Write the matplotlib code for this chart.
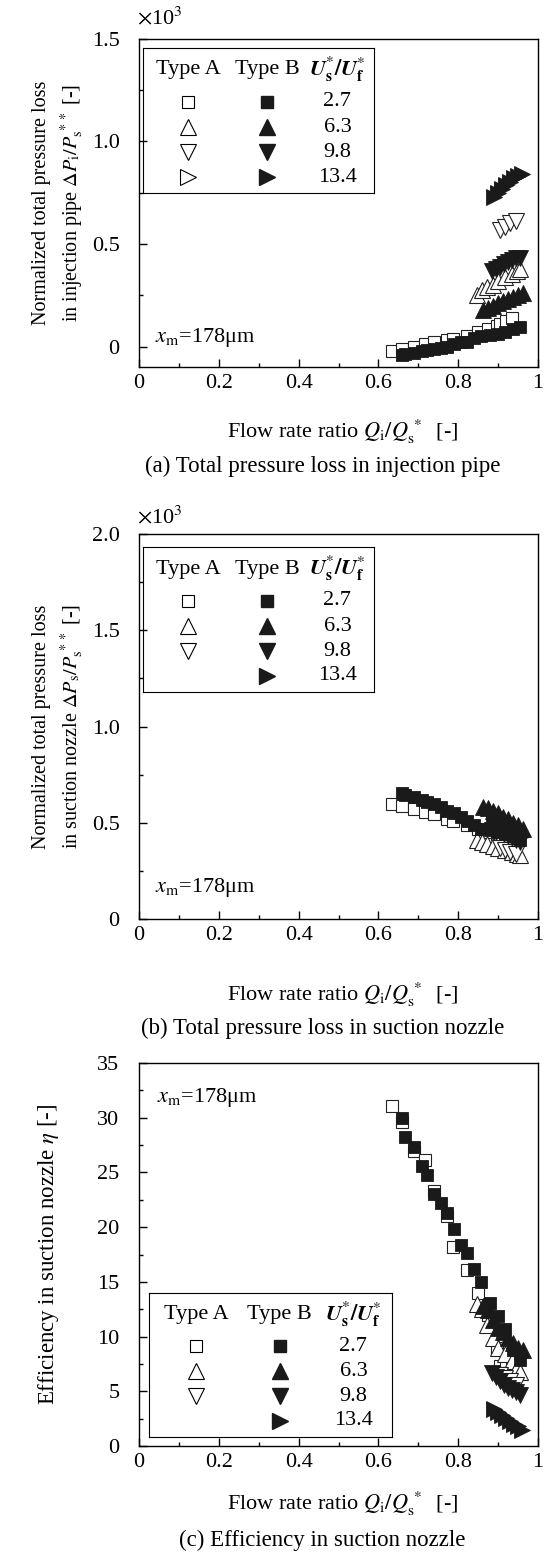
"""Pressure loss and efficiency of Type A / Type B nozzles versus flow rate ratio."""

import matplotlib

matplotlib.use("Agg")
import matplotlib.pyplot as plt  # noqa: E402
from matplotlib.ticker import FixedLocator, FixedFormatter, MultipleLocator  # noqa: E402


plt.rcParams["font.family"] = ["Liberation Serif", "DejaVu Serif"]
plt.rcParams["mathtext.fontset"] = "stix"
plt.rcParams["font.size"] = 16

SPEED_RATIOS = ["2.7", "6.3", "9.8", "13.4"]
MARKERS = ["s", "^", "v", ">"]

# flow rate ratio Qi/Qs* of each series
X_A_27 = [0.635, 0.66, 0.688, 0.717, 0.74, 0.773, 0.787, 0.823, 0.85, 0.875, 0.896, 0.905, 0.92, 0.936]
X_B_27 = [0.66, 0.667, 0.69, 0.71, 0.723, 0.74, 0.757, 0.773, 0.79, 0.807, 0.821, 0.84,
          0.857, 0.88, 0.9, 0.917, 0.938, 0.955]
X_A_63 = [0.846, 0.859, 0.871, 0.888, 0.9, 0.917, 0.934, 0.947, 0.955]
X_B_63 = [0.862, 0.875, 0.888, 0.9, 0.913, 0.925, 0.938, 0.95, 0.962]
X_A_98 = [0.905, 0.918, 0.93, 0.945]
X_B_98 = [0.885, 0.895, 0.905, 0.915, 0.925, 0.935, 0.945, 0.955]
X_B_134 = [0.89, 0.9, 0.91, 0.92, 0.93, 0.94, 0.95, 0.96]

# (a) injection pipe loss, x10^3
LOSS_PIPE_A_27 = [-0.02, -0.01, 0.0, 0.01, 0.02, 0.03, 0.035, 0.05, 0.07, 0.085, 0.10, 0.11, 0.125, 0.14]
LOSS_PIPE_B_27 = [-0.04, -0.035, -0.03, -0.02, -0.015, -0.01, -0.005, 0.0, 0.01, 0.02, 0.02, 0.04,
                  0.05, 0.055, 0.06, 0.07, 0.085, 0.095]
LOSS_PIPE_A_63 = [0.25, 0.275, 0.29, 0.30, 0.32, 0.34, 0.355, 0.37, 0.38]
LOSS_PIPE_B_63 = [0.18, 0.19, 0.20, 0.21, 0.22, 0.23, 0.24, 0.25, 0.26]
LOSS_PIPE_A_98 = [0.57, 0.585, 0.60, 0.61]
LOSS_PIPE_B_98 = [0.37, 0.38, 0.39, 0.40, 0.41, 0.42, 0.43, 0.43]
LOSS_PIPE_B_134 = [0.73, 0.75, 0.77, 0.79, 0.80, 0.82, 0.83, 0.84]

# (b) suction nozzle loss, x10^3
LOSS_NOZZLE_A_27 = [0.60, 0.585, 0.57, 0.557, 0.544, 0.52, 0.51, 0.49, 0.47, 0.45, 0.44, 0.43, 0.42, 0.40]
LOSS_NOZZLE_B_27 = [0.655, 0.645, 0.635, 0.62, 0.61, 0.595, 0.58, 0.56, 0.55, 0.53, 0.51, 0.49,
                    0.47, 0.46, 0.45, 0.44, 0.43, 0.41]
LOSS_NOZZLE_A_63 = [0.41, 0.40, 0.39, 0.38, 0.37, 0.36, 0.35, 0.34, 0.33]
LOSS_NOZZLE_B_63 = [0.58, 0.575, 0.56, 0.55, 0.53, 0.52, 0.50, 0.49, 0.47]
LOSS_NOZZLE_A_98 = [0.37, 0.36, 0.35, 0.34]
LOSS_NOZZLE_B_98 = [0.46, 0.45, 0.45, 0.44, 0.43, 0.42, 0.41, 0.40]
LOSS_NOZZLE_B_134 = [0.50, 0.49, 0.48, 0.47, 0.46, 0.45, 0.44, 0.43]

# (c) suction nozzle efficiency
EFF_A_27 = [31.1, 29.6, 27.0, 26.1, 23.3, 21.0, 18.2, 16.1, 14.0, 12.0, 9.0, 7.3, 7.8, 7.0]
EFF_B_27 = [30.0, 28.2, 27.3, 25.6, 24.8, 23.0, 22.2, 21.3, 19.8, 18.4, 17.6, 16.2,
            15.0, 13.1, 11.9, 10.7, 8.8, 7.9]
EFF_A_63 = [13.0, 12.5, 11.1, 9.9, 9.0, 8.4, 7.8, 7.2, 6.8]
EFF_B_63 = [12.8, 12.4, 11.5, 10.8, 10.4, 9.9, 9.4, 9.0, 8.8]
EFF_A_98 = [6.5, 6.2, 5.9, 5.6]
EFF_B_98 = [6.7, 6.3, 5.9, 5.6, 5.3, 5.1, 4.9, 4.7]
EFF_B_134 = [3.4, 3.1, 2.8, 2.6, 2.3, 2.0, 1.8, 1.5]

W, H = 547, 1564


def px_rect(left, top, right, bottom):
    return [left / W, 1 - bottom / H, (right - left) / W, (bottom - top) / H]


def scatter_series(ax, loss_a, loss_b):
    open_sets = zip([X_A_27, X_A_63, X_A_98], loss_a, MARKERS)
    for x, y, m in open_sets:
        size = 8.5 if m == "s" else 11
        ax.plot(x, y, m, ms=size, mfc="white", mec="#222222", mew=0.8, ls="none")
    filled_sets = zip([X_B_27, X_B_63, X_B_98, X_B_134], loss_b, MARKERS)
    for x, y, m in filled_sets:
        size = 8.5 if m == "s" else 11
        ax.plot(x, y, m, ms=size, mfc="#1a1a1a", mec="#1a1a1a", mew=0.6, ls="none")


def style_axes(ax, ylim, yticks, ylabels, minor):
    ax.set_xlim(0, 1)
    ax.set_ylim(*ylim)
    ax.xaxis.set_major_locator(FixedLocator([0, 0.2, 0.4, 0.6, 0.8, 1.0]))
    ax.xaxis.set_major_formatter(FixedFormatter(["0", "0.2", "0.4", "0.6", "0.8", "1"]))
    ax.xaxis.set_minor_locator(MultipleLocator(0.1))
    ax.yaxis.set_major_locator(FixedLocator(yticks))
    ax.yaxis.set_major_formatter(FixedFormatter(ylabels))
    ax.yaxis.set_minor_locator(MultipleLocator(minor))
    ax.tick_params(which="both", direction="in", top=False, right=False, width=1.0)
    ax.tick_params(which="major", length=6)
    ax.tick_params(which="minor", length=3)
    ax.tick_params(axis="x", which="major", pad=5)
    ax.tick_params(axis="y", which="major", pad=14)
    for spine in ax.spines.values():
        spine.set_linewidth(1.0)


def draw_key(ax, rect, open_flags):
    key = ax.inset_axes(rect)
    key.set_xlim(0, 1)
    key.set_ylim(1, 0)
    key.set_xticks([])
    key.set_yticks([])
    key.patch.set_alpha(0)
    key.text(0.195, 0.15, "Type A", ha="center", va="center")
    key.text(0.537, 0.15, "Type B", ha="center", va="center")
    key.text(0.84, 0.15, r"$\mathbfit{U}_\mathbf{s}^{*}\mathbf{/}\mathbfit{U}_\mathbf{f}^{*}$",
             ha="center", va="center")
    rows = [0.37, 0.545, 0.72, 0.89]
    for y, ratio, m, has_open in zip(rows, SPEED_RATIOS, MARKERS, open_flags):
        size = 9 if m == "s" else 12
        if has_open:
            key.plot(0.195, y, m, ms=size, mfc="white", mec="black", mew=0.8)
        key.plot(0.537, y, m, ms=size, color="#1a1a1a")
        key.text(0.84, y, ratio, ha="center", va="center")


def add_texts(ax, xlabel_off, caption_off, caption, xm_pos):
    ax.annotate(r"Flow rate ratio $Q_\mathrm{i}/Q_\mathrm{s}^{\,*}$  [-]", (0.5, 0),
                xycoords="axes fraction", xytext=(4, -xlabel_off), textcoords="offset pixels",
                ha="center", va="center")
    ax.annotate(caption, (0.5, 0), xycoords="axes fraction", xytext=(-16, -caption_off),
                textcoords="offset pixels", ha="center", va="center", fontsize=16.5)
    ax.text(xm_pos[0], xm_pos[1], r"$x_\mathrm{m}$=178μm", transform=ax.transAxes,
            ha="left", va="center")


def main() -> None:
    fig = plt.figure(figsize=(W / 100, H / 100), dpi=100)

    ax_a = fig.add_axes(px_rect(139, 39, 538, 367))
    scatter_series(ax_a,
                   [LOSS_PIPE_A_27, LOSS_PIPE_A_63, LOSS_PIPE_A_98],
                   [LOSS_PIPE_B_27, LOSS_PIPE_B_63, LOSS_PIPE_B_98, LOSS_PIPE_B_134])
    style_axes(ax_a, (-0.1, 1.5), [0, 0.5, 1.0, 1.5], ["0", "0.5", "1.0", "1.5"], 0.25)
    ax_a.set_ylabel("Normalized total pressure loss\n"
                    r"in injection pipe $\mathit{\Delta P}_\mathrm{i}/\mathit{P}_\mathrm{s}^{\,**}$ [-]",
                    fontsize=14.5, linespacing=1.4, labelpad=4)
    ax_a.text(-0.005, 1.065, r"$\times$10$^3$", transform=ax_a.transAxes, ha="left", va="center")
    draw_key(ax_a, [0.01, 0.53, 0.58, 0.443], [True, True, True, True])
    add_texts(ax_a, 65, 99, "(a) Total pressure loss in injection pipe", (0.04, 0.09))

    ax_b = fig.add_axes(px_rect(139, 534, 538, 919))
    scatter_series(ax_b,
                   [LOSS_NOZZLE_A_27, LOSS_NOZZLE_A_63, LOSS_NOZZLE_A_98],
                   [LOSS_NOZZLE_B_27, LOSS_NOZZLE_B_63, LOSS_NOZZLE_B_98, LOSS_NOZZLE_B_134])
    style_axes(ax_b, (0, 2.0), [0, 0.5, 1.0, 1.5, 2.0], ["0", "0.5", "1.0", "1.5", "2.0"], 0.25)
    ax_b.set_ylabel("Normalized total pressure loss\n"
                    r"in suction nozzle $\mathit{\Delta P}_\mathrm{s}/\mathit{P}_\mathrm{s}^{\,**}$ [-]",
                    fontsize=14.5, linespacing=1.4, labelpad=4)
    ax_b.text(-0.005, 1.045, r"$\times$10$^3$", transform=ax_b.transAxes, ha="left", va="center")
    draw_key(ax_b, [0.01, 0.59, 0.58, 0.375], [True, True, True, False])
    add_texts(ax_b, 76, 109, "(b) Total pressure loss in suction nozzle", (0.04, 0.083))

    ax_c = fig.add_axes(px_rect(139, 1063, 538, 1446))
    scatter_series(ax_c,
                   [EFF_A_27, EFF_A_63, EFF_A_98],
                   [EFF_B_27, EFF_B_63, EFF_B_98, EFF_B_134])
    style_axes(ax_c, (0, 35), [0, 5, 10, 15, 20, 25, 30, 35],
               ["0", "5", "10", "15", "20", "25", "30", "35"], 2.5)
    ax_c.set_ylabel(r"Efficiency in suction nozzle $\eta$ [-]", fontsize=16.5, labelpad=26)
    draw_key(ax_c, [0.025, 0.024, 0.61, 0.376], [True, True, True, False])
    add_texts(ax_c, 58, 94, "(c) Efficiency in suction nozzle", (0.045, 0.91))

    fig.savefig("out.png", dpi=100)


if __name__ == "__main__":
    main()
